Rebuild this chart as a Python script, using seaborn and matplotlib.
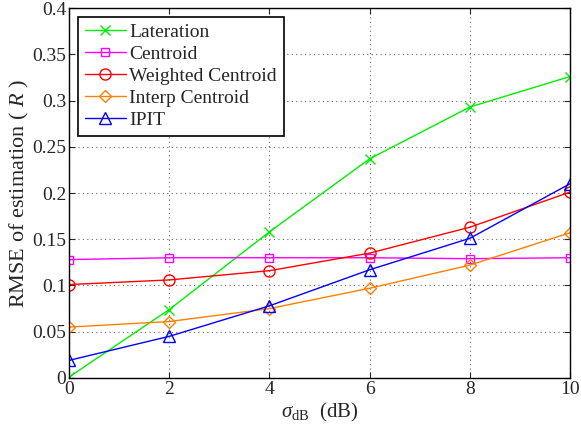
import matplotlib
matplotlib.use("Agg")
import matplotlib.pyplot as plt
from matplotlib.ticker import FormatStrFormatter
import seaborn as sns
import pandas as pd

sigma = [0, 2, 4, 6, 8, 10]
lateration = [0.001, 0.074, 0.158, 0.237, 0.293, 0.326]
centroid = [0.128, 0.130, 0.130, 0.130, 0.129, 0.130]
weighted = [0.101, 0.106, 0.116, 0.135, 0.163, 0.201]
interp = [0.055, 0.061, 0.075, 0.097, 0.122, 0.157]
ipit = [0.019, 0.045, 0.078, 0.117, 0.151, 0.210]

names = ["Lateration", "Centroid", "Weighted Centroid", "Interp Centroid", "IPIT"]
series = [lateration, centroid, weighted, interp, ipit]
colors = ["#00ee00", "#ff00ff", "#ff0000", "#ff8000", "#0000ff"]
markers = ["x", "s", "o", "D", "^"]
msizes = [7, 6, 8, 6, 8]

sns.set_style("ticks")
plt.rcParams["font.family"] = ["Liberation Serif", "DejaVu Serif"]
plt.rcParams["mathtext.fontset"] = "custom"
plt.rcParams["mathtext.rm"] = "Liberation Serif"
plt.rcParams["mathtext.it"] = "Liberation Serif:italic"

fig = plt.figure(figsize=(5.81, 4.28), dpi=100)
ax = fig.add_axes([0.119, 0.117, 0.862, 0.864])

for name, vals, c, m, ms in zip(names, series, colors, markers, msizes):
    df = pd.DataFrame({"x": sigma, "y": vals})
    sns.lineplot(data=df, x="x", y="y", ax=ax, color=c, marker=m, markersize=ms,
                 markerfacecolor="none", markeredgecolor=c, markeredgewidth=1.0,
                 linewidth=1.0, label=name)

ax.set_xlim(0, 10)
ax.set_ylim(0, 0.4)
ax.set_xticks([0, 2, 4, 6, 8, 10])
ax.set_yticks([0, 0.05, 0.1, 0.15, 0.2, 0.25, 0.3, 0.35, 0.4])
ax.yaxis.set_major_formatter(FormatStrFormatter("%g"))
ax.grid(True, linestyle=(0, (1, 3)), color="#666666", linewidth=0.8)
ax.tick_params(direction="in", top=True, right=True, labelsize=14, length=4, width=0.8, pad=2)
for s in ax.spines.values():
    s.set_linewidth(1.0)
    s.set_color("black")
ax.set_xlabel(r"$\sigma_{\rm dB}$  (dB)", fontsize=15, labelpad=2)
ax.set_ylabel(r"RMSE of estimation ( $\it{R}$ )", fontsize=16, labelpad=1)

leg = ax.legend(loc="upper left", fontsize=14, frameon=True, fancybox=False,
                edgecolor="black", framealpha=1, borderpad=0.35, labelspacing=0.22,
                handlelength=2.1, handletextpad=0.2, borderaxespad=0.45)
leg.get_frame().set_linewidth(1.2)

fig.savefig("out.png", dpi=100)
